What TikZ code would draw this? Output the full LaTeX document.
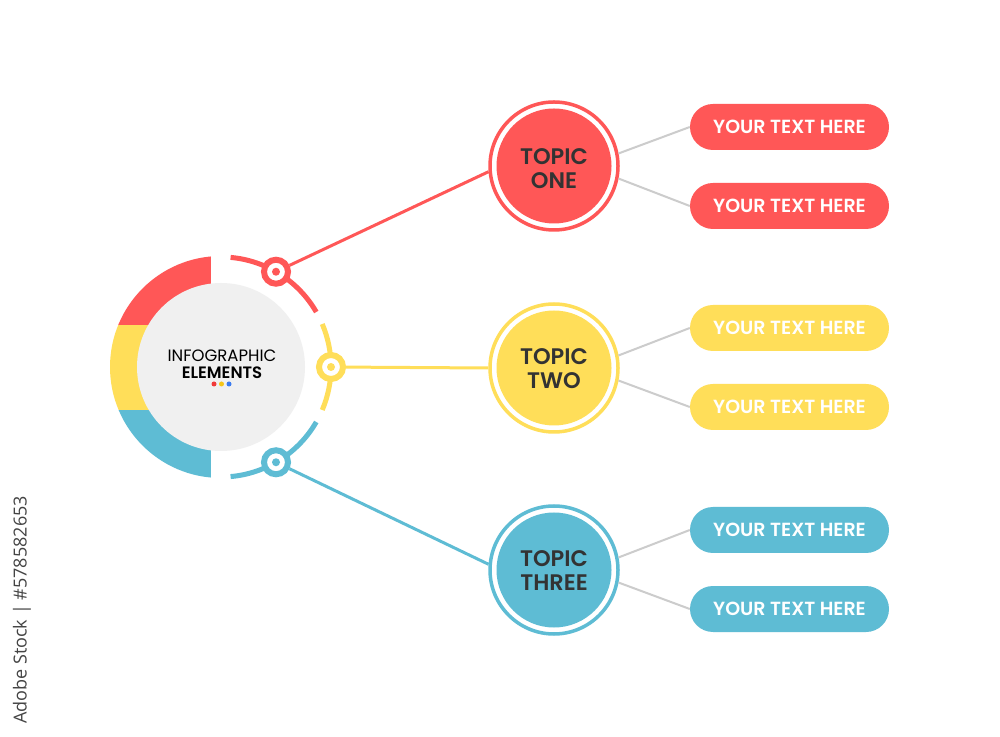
\documentclass[tikz,border=0pt]{standalone}
\usepackage{fontspec}
\setmainfont{Poppins}[BoldFont={* SemiBold}]
\newfontfamily\stockfont{Open Sans}
\definecolor{cred}{HTML}{FF5757}
\definecolor{cyel}{HTML}{FFDE59}
\definecolor{cblue}{HTML}{5EBCD4}
\definecolor{cgray}{HTML}{F0F0F0}
\definecolor{cdark}{HTML}{333333}
\definecolor{cline}{HTML}{CCCCCC}
\definecolor{cstock}{HTML}{444444}
\definecolor{cdotblue}{HTML}{3B7BF0}
\definecolor{cdotred}{HTML}{F03A3A}
\definecolor{cdotyel}{HTML}{F5C518}
\begin{document}
\begin{tikzpicture}[x=1pt,y=1pt,
  smallc/.style={circle, fill=white, line width=6pt, minimum size=24pt, inner sep=0pt},
  topicring/.style={circle, fill=white, line width=3.5pt, minimum size=128pt, inner sep=0pt},
  topicfill/.style={circle, minimum size=115pt, inner sep=0pt},
  topictext/.style={align=center, text=cdark, inner sep=0pt,
    font=\bfseries\fontsize{22.5}{24}\selectfont},
  pill/.style={rectangle, rounded corners=23pt, minimum width=199pt, minimum height=46pt,
    inner sep=0pt, text=white, font=\bfseries\fontsize{19}{22}\selectfont},
  arcline/.style={line width=5pt},
  conn/.style={line width=3pt},
  gline/.style={draw=cline, line width=2pt}]
\useasboundingbox (0,0) rectangle (1000,736);
\fill[white] (0,0) rectangle (1000,736);
\coordinate (c) at (221,369);
% coloured half ring
\begin{scope}
\clip (c) circle (111);
\clip (100,240) rectangle (211,500);
\fill[cred] (100,411) rectangle (211,500);
\fill[cyel] (100,326) rectangle (211,411);
\fill[cblue] (100,240) rectangle (211,326);
\end{scope}
\node[circle, fill=cgray, minimum size=168pt, inner sep=0pt] (hub) at (c) {};
\node[align=center, text=black, font=\fontsize{16.5}{17.5}\selectfont] (hubtext) at (222,372)
  {INFOGRAPHIC\\\textbf{ELEMENTS}};
\fill[cdotred] (214,352) circle (2.5);
\fill[cdotyel] (221.5,352) circle (2.5);
\fill[cdotblue] (229,352) circle (2.5);
% right arcs
\draw[cred, arcline] ([shift={(85:110)}]c) arc (85:30:110);
\draw[cyel, arcline] ([shift={(23:110)}]c) arc (23:-23:110);
\draw[cblue, arcline] ([shift={(-30:110)}]c) arc (-30:-85:110);
% small circles
\node[smallc, draw=cred] (s1) at ([shift={(60:110)}]c) {};
\node[smallc, draw=cyel] (s2) at ([shift={(0:110)}]c) {};
\node[smallc, draw=cblue] (s3) at ([shift={(-60:110)}]c) {};
\fill[cred] (s1) circle (4);
\fill[cyel] (s2) circle (4);
\fill[cblue] (s3) circle (4);
% topic circles
\node[topicring, draw=cred] (t1) at (554,570) {};
\node[topicfill, fill=cred] (t1f) at (t1) {};
\node[topictext] (t1t) at ([yshift=-3pt]t1) {TOPIC\\ONE};
\node[topicring, draw=cyel] (t2) at (554,368) {};
\node[topicfill, fill=cyel] (t2f) at (t2) {};
\node[topictext] (t2t) at ([yshift=-1pt]t2) {TOPIC\\TWO};
\node[topicring, draw=cblue] (t3) at (554,166) {};
\node[topicfill, fill=cblue] (t3f) at (t3) {};
\node[topictext] (t3t) at ([yshift=-1pt]t3) {TOPIC\\THREE};
% connectors
\draw[cred, conn] (s1) -- (t1.185);
\draw[cyel, conn] (s2) -- (t2.180);
\draw[cblue, conn] (s3) -- (t3.175);
% pills
\node[pill, fill=cred] (p1) at (789.5,609) {YOUR TEXT HERE};
\node[pill, fill=cred] (p2) at (789.5,530) {YOUR TEXT HERE};
\node[pill, fill=cyel] (p3) at (789.5,408) {YOUR TEXT HERE};
\node[pill, fill=cyel] (p4) at (789.5,329) {YOUR TEXT HERE};
\node[pill, fill=cblue] (p5) at (789.5,206) {YOUR TEXT HERE};
\node[pill, fill=cblue] (p6) at (789.5,127) {YOUR TEXT HERE};
\draw[gline] (t1.11) -- (p1.west);
\draw[gline] (t1.-11) -- (p2.west);
\draw[gline] (t2.11) -- (p3.west);
\draw[gline] (t2.-11) -- (p4.west);
\draw[gline] (t3.11) -- (p5.west);
\draw[gline] (t3.-11) -- (p6.west);
% stock label
\node[rotate=90, text=cstock, font=\stockfont\fontsize{18}{20}\selectfont] (stock) at (22,126)
  {Adobe Stock | \#578582653};
\end{tikzpicture}
\end{document}
